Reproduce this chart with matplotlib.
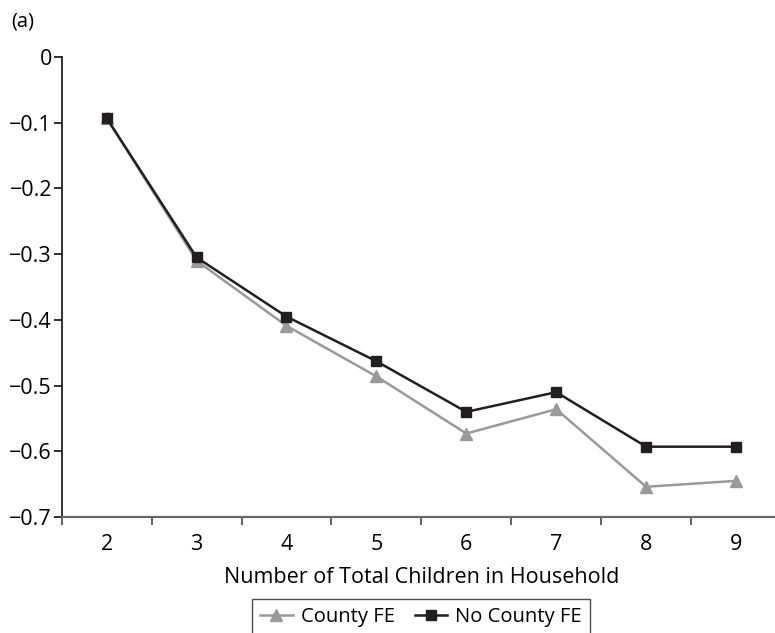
import matplotlib.pyplot as plt
from matplotlib.ticker import FixedLocator, NullFormatter

# Estimated effect by number of children in the household
children = [2, 3, 4, 5, 6, 7, 8, 9]
county_fe = [-0.093, -0.310, -0.409, -0.486, -0.573, -0.536, -0.654, -0.645]
no_county_fe = [-0.093, -0.305, -0.395, -0.463, -0.540, -0.510, -0.593, -0.593]
y_ticks = [0, -0.1, -0.2, -0.3, -0.4, -0.5, -0.6, -0.7]

plt.rcParams['font.family'] = ['Open Sans', 'DejaVu Sans']
plt.rcParams['font.size'] = 15.5

fig = plt.figure(figsize=(7.75, 6.33), dpi=100)
ax = fig.add_axes([61.7 / 775, 116 / 633, (781 - 61.7) / 775, 460 / 633])

gray = '#9a9a9a'
black = '#231f20'
ax.plot(children, county_fe, color=gray, marker='^', markersize=8, lw=1.8,
        label='County FE', zorder=2)
ax.plot(children, no_county_fe, color=black, marker='s', markersize=7.5, lw=1.8,
        label='No County FE', zorder=3)

ax.set_xlim(1.5, 9.5)
ax.set_ylim(-0.7, 0)

# category labels on the major ticks, tick marks between categories
ax.set_xticks(children)
ax.xaxis.set_minor_locator(FixedLocator([c + 0.5 for c in [1] + children]))
ax.xaxis.set_minor_formatter(NullFormatter())
ax.tick_params(axis='x', which='major', length=0, pad=12)
ax.tick_params(axis='x', which='minor', length=6, width=1.3, color='#555555',
               direction='out')
ax.set_yticks(y_ticks)
ax.set_yticklabels(['0' if v == 0 else f'{v:.1f}'.replace('-', '\u2212') for v in y_ticks])
ax.tick_params(axis='y', length=6, width=1.3, color=black, direction='out', pad=1)

ax.spines['top'].set_visible(False)
ax.spines['right'].set_visible(False)
ax.spines['left'].set_color(black)
ax.spines['left'].set_linewidth(1.3)
ax.spines['bottom'].set_color('#666666')
ax.spines['bottom'].set_linewidth(1.6)

ax.set_xlabel('Number of Total Children in Household', labelpad=9)

fig.text(11 / 775, 1 - 22 / 633, '(a)', ha='left', va='center', fontsize=14.5)

leg = fig.legend(loc='upper center', bbox_to_anchor=(421 / 775, 1 - 599 / 633),
                 ncol=2, frameon=True, fancybox=False, edgecolor=black,
                 handlelength=1.6, handletextpad=0.4, columnspacing=1.0,
                 borderpad=0.4, borderaxespad=0, fontsize=14.5)
leg.get_frame().set_linewidth(1.0)

fig.savefig('out.png', dpi=100)
